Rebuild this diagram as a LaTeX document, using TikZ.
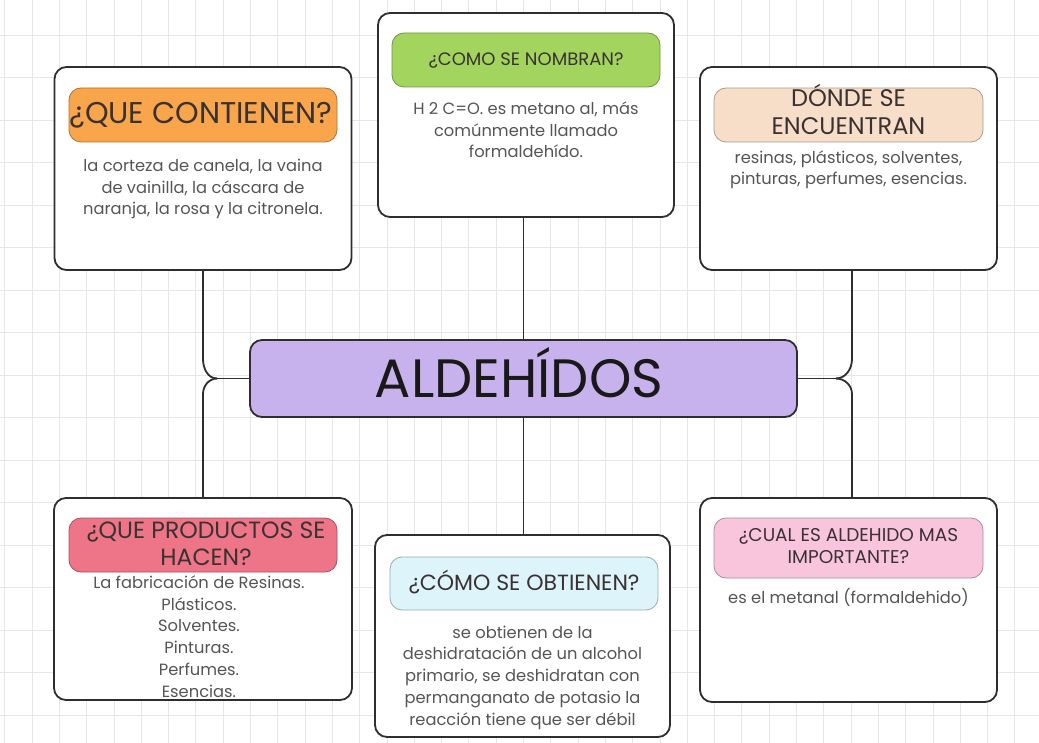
\documentclass[tikz,border=0pt]{standalone}
\usepackage{fontspec}
\setmainfont{Poppins}
\usetikzlibrary{calc}
\definecolor{gridc}{HTML}{E6E6E6}
\definecolor{boxline}{HTML}{2E2E2E}
\definecolor{headtxt}{HTML}{3A3232}
\definecolor{bodytxt}{HTML}{555555}
\definecolor{corange}{HTML}{F8A54C}
\definecolor{cgreen}{HTML}{A2D45E}
\definecolor{cpeach}{HTML}{F6DEC9}
\definecolor{cred}{HTML}{EE7487}
\definecolor{ccyan}{HTML}{DCF4FA}
\definecolor{cpink}{HTML}{F8C5DD}
\definecolor{cpurple}{HTML}{C8B2EE}
\tikzset{
  card/.style={draw=boxline, line width=1.8pt, rounded corners=12pt, fill=white, inner sep=0pt},
  tag/.style={draw=#1!70!black, line width=0.8pt, rounded corners=12pt, fill=#1, inner sep=0pt},
  headline/.style={text=headtxt, align=center, inner sep=0pt, anchor=base},
  bodyline/.style={text=bodytxt, align=center, inner sep=0pt, anchor=base, font=\fontsize{16.3}{21.7}\selectfont},
  conn/.style={draw=boxline, line width=1.8pt},
}
\begin{document}
\begin{tikzpicture}[x=1pt,y=-1pt]
\useasboundingbox (0,0) rectangle (1039,743);
\fill[white] (0,0) rectangle (1039,743);
% grid
\foreach \i in {0,...,38} {\draw[gridc, line width=0.8pt] (4.7+27.3*\i,0) -- (4.7+27.3*\i,743);}
\foreach \j in {0,...,17} {\draw[gridc, line width=0.8pt] (0,35+42.5*\j) -- (1039,35+42.5*\j);}

% cards
\node[card, minimum width=297pt, minimum height=203pt] (TL) at (203,168.5) {};
\node[card, minimum width=296pt, minimum height=204pt] (TM) at (526,115) {};
\node[card, minimum width=297pt, minimum height=203pt] (TR) at (848.5,168.5) {};
\node[card, minimum width=298pt, minimum height=202pt] (BL) at (203,599) {};
\node[card, minimum width=295pt, minimum height=202pt] (BM) at (522.5,636) {};
\node[card, minimum width=297pt, minimum height=204pt] (BR) at (848.5,600) {};
\node[card, fill=cpurple, minimum width=547pt, minimum height=77pt] (C) at (523.5,378.5) {};
\node[headline, font=\fontsize{54}{60}\selectfont, text=black!90] (Ct) at (519,397) {ALDEHÍDOS};

% connectors
\coordinate (JL) at ($(C.west)+(-32,0)$);
\coordinate (JR) at ($(C.east)+(38,0)$);
\draw[conn] (C.west) -- (JL);
\draw[conn] (TL.south) -- ($(TL.south)+(0,88)$) to[out=270,in=180] (JL);
\draw[conn] (JL) to[out=180,in=90] ($(BL.north)+(0,-103)$) -- (BL.north);
\draw[conn] (C.east) -- (JR);
\draw[conn] ($(TR.south)+(3.5,0)$) -- ($(TR.south)+(3.5,88)$) to[out=270,in=0] (JR);
\draw[conn] (JR) to[out=0,in=90] ($(BR.north)+(3.5,-103)$) -- ($(BR.north)+(3.5,0)$);
\draw[conn] (TM.south -| C.north) -- (C.north);
\draw[conn] (C.south) -- (C.south |- BM.north);

% tags
\node[tag=corange, minimum width=268pt, minimum height=54pt] (TLh) at (203,115) {};
\node[headline, font=\fontsize{30}{34}\selectfont] at (201,124) {¿QUE CONTIENEN?};
\node[tag=cgreen, minimum width=268pt, minimum height=54pt] (TMh) at (526,60) {};
\node[headline, font=\fontsize{18}{22}\selectfont] at (526,66) {¿COMO SE NOMBRAN?};
\node[tag=cpeach, minimum width=269pt, minimum height=54pt] (TRh) at (848.5,115) {};
\node[headline, font=\fontsize{24}{28}\selectfont] at (848.5,135) {DÓNDE SE\\ENCUENTRAN};
\node[tag=cred, minimum width=268pt, minimum height=54pt] (BLh) at (203,545) {};
\node[headline, font=\fontsize{23.5}{27}\selectfont] at (206,565) {¿QUE PRODUCTOS SE\\HACEN?};
\node[tag=ccyan, minimum width=268pt, minimum height=53pt] (BMh) at (524,583.5) {};
\node[headline, font=\fontsize{22}{26}\selectfont] at (524,590) {¿CÓMO SE OBTIENEN?};
\node[tag=cpink, minimum width=269pt, minimum height=60pt] (BRh) at (848.5,548) {};
\node[headline, font=\fontsize{18.5}{21.5}\selectfont] at (848.5,563) {¿CUAL ES ALDEHIDO MAS\\IMPORTANTE?};

% bodies
\node[bodyline] (TLb) at (203,215) {la corteza de canela, la vaina\\de vainilla, la cáscara de\\naranja, la rosa y la citronela.};
\node[bodyline] (TMb) at (526,158) {H 2 C=O. es metano al, más\\comúnmente llamado\\formaldehído.};
\node[bodyline] (TRb) at (848.5,185) {resinas, plásticos, solventes,\\pinturas, perfumes, esencias.};
\node[bodyline] (BLb) at (199,697) {La fabricación de Resinas.\\Plásticos.\\Solventes.\\Pinturas.\\Perfumes.\\Esencias.};
\node[bodyline] (BMb) at (522.5,725) {se obtienen de la\\deshidratación de un alcohol\\primario, se deshidratan con\\permanganato de potasio la\\reacción tiene que ser débil};
\node[bodyline] (BRb) at (848.5,603) {es el metanal (formaldehido)};
\end{tikzpicture}
\end{document}
